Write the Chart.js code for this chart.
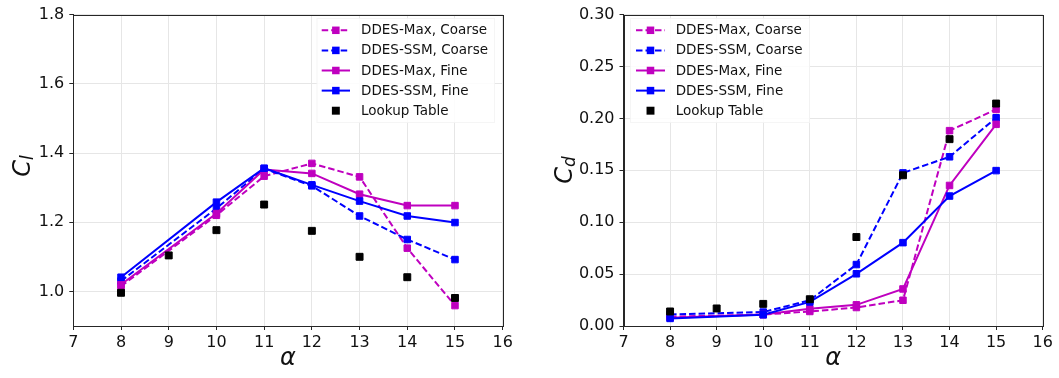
<!DOCTYPE html>
<html>
<head>
<meta charset="utf-8">
<script src="https://cdn.jsdelivr.net/npm/chart.js@4/dist/chart.umd.min.js"></script>
<style>
  html, body { margin: 0; padding: 0; background: #ffffff; }
  #wrap { position: relative; width: 1059px; height: 378px; overflow: hidden; }
  #wrap canvas { position: absolute; top: 0; }
</style>
</head>
<body>
<div id="wrap">
  <canvas id="clChart" width="530" height="378" style="left:0"></canvas>
  <canvas id="cdChart" width="529" height="378" style="left:530px"></canvas>
</div>
<script>
// Angles of attack
const alphaSim = [8, 10, 11, 12, 13, 14, 15];
const alphaLookup = [8, 9, 10, 11, 12, 13, 14, 15];
const alphaTicks = [7, 8, 9, 10, 11, 12, 13, 14, 15, 16];

// Lift coefficient
const clMaxCoarse = [1.015, 1.220, 1.333, 1.370, 1.331, 1.125, 0.959];
const clSsmCoarse = [1.030, 1.240, 1.355, 1.305, 1.218, 1.150, 1.092];
const clMaxFine   = [1.020, 1.225, 1.352, 1.341, 1.281, 1.248, 1.248];
const clSsmFine   = [1.041, 1.258, 1.356, 1.308, 1.261, 1.218, 1.199];
const clLookup    = [0.996, 1.104, 1.177, 1.251, 1.175, 1.100, 1.041, 0.981];
const clTicks = [1.0, 1.2, 1.4, 1.6, 1.8];

// Drag coefficient
const cdMaxCoarse = [0.0090, 0.0110, 0.0140, 0.0178, 0.0248, 0.1882, 0.2086];
const cdSsmCoarse = [0.0111, 0.0134, 0.0248, 0.0592, 0.1475, 0.1630, 0.2006];
const cdMaxFine   = [0.0080, 0.0110, 0.0166, 0.0204, 0.0357, 0.1354, 0.1943];
const cdSsmFine   = [0.0073, 0.0108, 0.0232, 0.0503, 0.0803, 0.1252, 0.1497];
const cdLookup    = [0.0140, 0.0169, 0.0213, 0.0258, 0.0857, 0.1452, 0.1800, 0.2143];
const cdTicks = [0.00, 0.05, 0.10, 0.15, 0.20, 0.25, 0.30];

const seriesLabels = ['DDES-Max, Coarse', 'DDES-SSM, Coarse', 'DDES-Max, Fine', 'DDES-SSM, Fine', 'Lookup Table'];

const MAGENTA = '#bf00bf';
const BLUE = '#0000ff';
const BLACK = '#000000';
const DASH = [6.5, 3];
const FONT = "'DejaVu Sans', sans-serif";
const INK = '#111111';
const FRAME = '#262626';
const GRID = '#e6e6e6';

Chart.defaults.font.family = FONT;

function toPoints(xs, ys) {
  return xs.map((x, i) => ({ x: x, y: ys[i] }));
}

function lineSet(label, ys, color, dashed, order) {
  return {
    label: label,
    data: toPoints(alphaSim, ys),
    borderColor: color,
    backgroundColor: color,
    borderWidth: 2,
    borderDash: dashed ? DASH : [],
    pointStyle: 'rect',
    pointRadius: 4.6,
    pointBorderWidth: 1,
    pointBorderColor: color,
    pointBackgroundColor: color,
    showLine: true,
    fill: false,
    tension: 0,
    order: order
  };
}

function lookupSet(ys) {
  return {
    label: seriesLabels[4],
    data: toPoints(alphaLookup, ys),
    borderColor: BLACK,
    backgroundColor: BLACK,
    showLine: false,
    pointStyle: 'rect',
    pointRadius: 4.9,
    pointBorderWidth: 1,
    pointBorderColor: BLACK,
    pointBackgroundColor: BLACK,
    order: 0
  };
}

function buildDatasets(maxC, ssmC, maxF, ssmF, look) {
  return [
    lineSet(seriesLabels[0], maxC, MAGENTA, true, 4),
    lineSet(seriesLabels[1], ssmC, BLUE, true, 3),
    lineSet(seriesLabels[2], maxF, MAGENTA, false, 2),
    lineSet(seriesLabels[3], ssmF, BLUE, false, 1),
    lookupSet(look)
  ];
}

// Frame, axis titles and the in-plot legend
function decorations(cfg) {
  return {
    id: 'decorations',
    afterDraw(chart) {
      const ctx = chart.ctx;
      const a = chart.chartArea;
      ctx.save();

      // full box around the plot area
      ctx.strokeStyle = FRAME;
      ctx.lineWidth = 1;
      const l = Math.round(a.left) + 0.5, t = Math.round(a.top) + 0.5;
      const r = Math.round(a.right) + 0.5, b = Math.round(a.bottom) + 0.5;
      ctx.strokeRect(l, t, r - l, b - t);

      // legend
      const lg = cfg.legend;
      ctx.fillStyle = 'rgba(255,255,255,0.85)';
      ctx.fillRect(lg.x, lg.y, lg.w, lg.h);
      ctx.strokeStyle = 'rgba(0,0,0,0.04)';
      ctx.strokeRect(lg.x + 0.5, lg.y + 0.5, lg.w - 1, lg.h - 1);
      chart.data.datasets.forEach((ds, i) => {
        const y = lg.row0 + i * lg.rowStep;
        if (ds.showLine !== false) {
          ctx.save();
          ctx.strokeStyle = ds.borderColor;
          ctx.lineWidth = ds.borderWidth;
          ctx.setLineDash(ds.borderDash || []);
          ctx.beginPath();
          ctx.moveTo(lg.lineX0, y);
          ctx.lineTo(lg.lineX1, y);
          ctx.stroke();
          ctx.restore();
        }
        const mx = (lg.lineX0 + lg.lineX1) / 2;
        const half = ds.pointRadius * Math.SQRT1_2 + 0.5;
        ctx.fillStyle = ds.pointBackgroundColor;
        ctx.fillRect(mx - half, y - half, 2 * half, 2 * half);
        ctx.fillStyle = INK;
        ctx.font = '13.5px ' + FONT;
        ctx.textAlign = 'left';
        ctx.textBaseline = 'middle';
        ctx.fillText(ds.label, lg.textX, y + 0.5);
      });

      // x-axis title
      ctx.fillStyle = INK;
      ctx.font = 'italic 24px ' + FONT;
      ctx.textAlign = 'center';
      ctx.textBaseline = 'alphabetic';
      ctx.fillText('\u03b1', (a.left + a.right) / 2, 365);

      // y-axis title with subscript
      const yt = cfg.yTitle;
      ctx.save();
      ctx.translate(yt.baseX, yt.centerY);
      ctx.rotate(-Math.PI / 2);
      ctx.textAlign = 'left';
      ctx.textBaseline = 'alphabetic';
      ctx.font = 'italic 24px ' + FONT;
      const wMain = ctx.measureText(yt.main).width;
      ctx.font = 'italic 17px ' + FONT;
      const wSub = ctx.measureText(yt.sub).width;
      const x0 = -(wMain + wSub) / 2;
      ctx.font = 'italic 24px ' + FONT;
      ctx.fillText(yt.main, x0, 0);
      ctx.font = 'italic 17px ' + FONT;
      ctx.fillText(yt.sub, x0 + wMain, 3);
      ctx.restore();

      ctx.restore();
    }
  };
}

function makeChart(canvasId, datasets, yRange, yTickValues, yDigits, yAxisWidth, padRight, cfg) {
  return new Chart(document.getElementById(canvasId), {
    type: 'line',
    data: { datasets: datasets },
    options: {
      responsive: false,
      animation: false,
      events: [],
      layout: { padding: { left: 0, top: 12, right: padRight, bottom: 0 } },
      plugins: { legend: { display: false }, tooltip: { enabled: false } },
      scales: {
        x: {
          type: 'linear',
          min: alphaTicks[0],
          max: alphaTicks[alphaTicks.length - 1],
          afterBuildTicks: (s) => { s.ticks = alphaTicks.map(v => ({ value: v })); },
          afterFit: (s) => { s.height = 52; },
          grid: { color: GRID, lineWidth: 1, tickColor: FRAME, tickLength: 4, tickWidth: 1 },
          border: { display: true, color: FRAME, width: 1 },
          ticks: {
            font: { size: 16 }, color: INK, padding: 3,
            maxRotation: 0, autoSkip: false,
            callback: (v) => String(v)
          }
        },
        y: {
          type: 'linear',
          min: yRange[0],
          max: yRange[1],
          afterBuildTicks: (s) => { s.ticks = yTickValues.map(v => ({ value: v })); },
          afterFit: (s) => { s.width = yAxisWidth; },
          grid: { color: GRID, lineWidth: 1, tickColor: FRAME, tickLength: 4, tickWidth: 1 },
          border: { display: true, color: FRAME, width: 1 },
          ticks: {
            font: { size: 16 }, color: INK, padding: 5,
            autoSkip: false,
            callback: (v) => Number(v).toFixed(yDigits)
          }
        }
      }
    },
    plugins: [decorations(cfg)]
  });
}

makeChart('clChart',
  buildDatasets(clMaxCoarse, clSsmCoarse, clMaxFine, clSsmFine, clLookup),
  [0.9, 1.8], clTicks, 1, 73.3, 27.3,
  {
    legend: { x: 316.5, y: 18, w: 178.5, h: 105, row0: 30.3, rowStep: 20.1, lineX0: 321.7, lineX1: 350, textX: 361 },
    yTitle: { main: 'C', sub: 'l', baseX: 29.5, centerY: 166 }
  });

makeChart('cdChart',
  buildDatasets(cdMaxCoarse, cdSsmCoarse, cdMaxFine, cdSsmFine, cdLookup),
  [0.0, 0.3], cdTicks, 2, 93.5, 16.3,
  {
    legend: { x: 100, y: 18, w: 180, h: 105, row0: 30.3, rowStep: 20.1, lineX0: 106, lineX1: 135, textX: 145.7 },
    yTitle: { main: 'C', sub: 'd', baseX: 42, centerY: 170 }
  });
</script>
</body>
</html>
